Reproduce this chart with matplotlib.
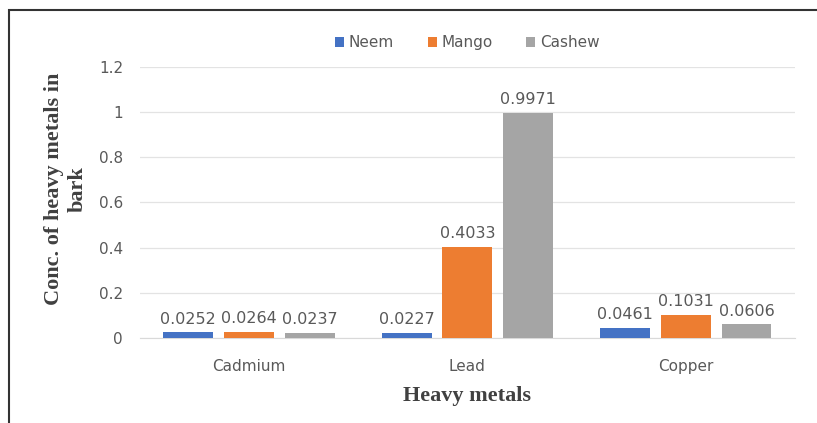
import numpy as np
import matplotlib.pyplot as plt
from matplotlib.patches import Rectangle

metals = ['Cadmium', 'Lead', 'Copper']
neem = [0.0252, 0.0227, 0.0461]
mango = [0.0264, 0.4033, 0.1031]
cashew = [0.0237, 0.9971, 0.0606]
series = ['Neem', 'Mango', 'Cashew']
colors = ['#4472C4', '#ED7D31', '#A5A5A5']

fig = plt.figure(figsize=(8.17, 4.23), dpi=100)
ax = fig.add_axes([0.171, 0.201, 0.802, 0.641])

x = np.arange(len(metals))
w = 0.228
step = 0.278
for i, (vals, name, c) in enumerate(zip([neem, mango, cashew], series, colors)):
    pos = x + (i - 1) * step
    bars = ax.bar(pos, vals, w, color=c, label=name, zorder=3)
    for p, v in zip(pos, vals):
        ax.text(p, v + 0.025, f'{v:.4f}', ha='center', va='bottom',
                fontsize=11.5, color='#595959', family='DejaVu Sans')

ax.set_ylim(0, 1.2)
ax.set_xlim(-0.5, 2.5)
ax.set_yticks(np.arange(0, 1.21, 0.2))
ax.set_yticklabels(['0', '0.2', '0.4', '0.6', '0.8', '1', '1.2'])
ax.set_xticks(x)
ax.set_xticklabels(metals)
ax.tick_params(axis='x', length=0, labelsize=11, colors='#595959', pad=15)
ax.tick_params(axis='y', length=0, labelsize=11, colors='#595959', pad=12)
ax.grid(axis='y', color='#E3E3E3', lw=0.9, zorder=0)
for s in ['top', 'right', 'left']:
    ax.spines[s].set_visible(False)
ax.spines['bottom'].set_color('#D9D9D9')

ax.set_xlabel('Heavy metals', family='Liberation Serif', fontweight='bold',
              fontsize=16, color='#404040', labelpad=9)
ax.set_ylabel('Conc. of heavy metals in\nbark', family='Liberation Serif',
              fontweight='bold', fontsize=16, color='#404040',
              linespacing=1.25)
ax.yaxis.set_label_coords(-0.08, 0.55)

ax.legend(loc='lower center', bbox_to_anchor=(0.5, 1.01), ncol=3, frameon=False,
          fontsize=11, handlelength=0.6, handleheight=0.6, handletextpad=0.3,
          columnspacing=2.2, labelcolor='#595959')

# outer frame
fig.patches.append(Rectangle((0.011, -0.1), 1.2, 1.077, transform=fig.transFigure,
                             fill=False, lw=1.5, ec='#333333'))

fig.savefig('out.png', dpi=100)
